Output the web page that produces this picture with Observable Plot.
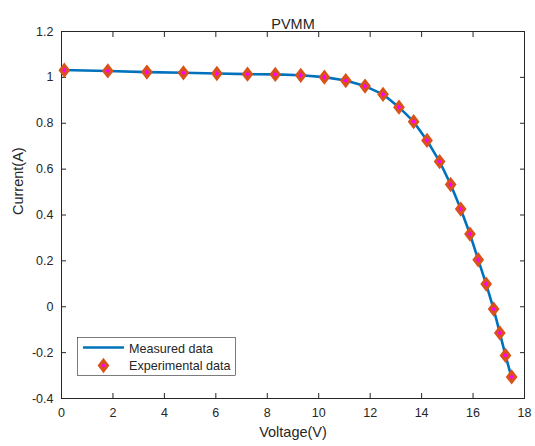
<!DOCTYPE html>
<html><head><meta charset="utf-8">
<script src="https://cdn.jsdelivr.net/npm/d3@7"></script>
<script src="https://cdn.jsdelivr.net/npm/@observablehq/plot@0.6"></script>
<style>body{margin:0;background:#fff} svg{display:block}</style>
</head><body><div id="chart"></div>
<script>
// Experimental data (diamonds)
const voltage = [0.11, 1.80, 3.32, 4.74, 6.04, 7.23, 8.31, 9.30, 10.22, 11.05, 11.80, 12.50, 13.12, 13.69, 14.21, 14.70, 15.13, 15.52, 15.88, 16.20, 16.51, 16.80, 17.04, 17.26, 17.50];
const current = [1.031, 1.028, 1.023, 1.020, 1.017, 1.014, 1.013, 1.009, 1.001, 0.986, 0.962, 0.926, 0.870, 0.807, 0.725, 0.633, 0.533, 0.426, 0.317, 0.205, 0.099, -0.010, -0.114, -0.212, -0.306];
// Measured data (line)
const lineVoltage = [0.00, 1.80, 3.32, 4.74, 6.04, 7.23, 8.31, 9.30, 10.22, 11.05, 11.80, 12.50, 13.12, 13.69, 14.21, 14.70, 15.13, 15.52, 15.88, 16.20, 16.51, 16.80, 17.04, 17.26, 17.52];
const lineCurrent = [1.032, 1.028, 1.023, 1.020, 1.017, 1.014, 1.013, 1.009, 1.001, 0.986, 0.962, 0.926, 0.870, 0.807, 0.725, 0.633, 0.533, 0.426, 0.317, 0.205, 0.099, -0.010, -0.114, -0.212, -0.318];

const xTicks = [0, 2, 4, 6, 8, 10, 12, 14, 16, 18];
const yTicks = [-0.4, -0.2, 0, 0.2, 0.4, 0.6, 0.8, 1, 1.2];
const titleText = "PVMM";
const xLabel = "Voltage(V)";
const yLabel = "Current(A)";
const legendLabels = ["Measured data", "Experimental data"];

const pts = voltage.map((v, i) => ({v, c: current[i]}));
const linePts = lineVoltage.map((v, i) => ({v, c: lineCurrent[i]}));

const ink = "#262626";
const blue = "#0072BD";
const orange = "#D95319";
const magenta = "#FF00FF";
const font = "'Liberation Sans', Arial, sans-serif";
const diamond = {draw(ctx) { const w = 4, h = 5.2; ctx.moveTo(0, -h); ctx.lineTo(w, 0); ctx.lineTo(0, h); ctx.lineTo(-w, 0); ctx.closePath(); }};

const chart = Plot.plot({
  width: 535, height: 446,
  marginLeft: 61, marginRight: 11, marginTop: 31, marginBottom: 48,
  style: {fontFamily: font, fontSize: "12.5px", color: ink, background: "#fff"},
  x: {domain: [0, 18]},
  y: {domain: [-0.4, 1.2]},
  marks: [
    Plot.axisX(xTicks, {anchor: "bottom", tickSize: -5, tickPadding: 15, tickFormat: d => String(d), label: null, stroke: ink, fill: ink, fontSize: 12.5}),
    Plot.axisX(xTicks, {anchor: "top", tickSize: -5, tickFormat: () => "", label: null, stroke: ink}),
    Plot.axisY(yTicks, {anchor: "left", tickSize: -5, tickPadding: 13, tickFormat: d => String(d), label: null, stroke: ink, fill: ink, fontSize: 12.5}),
    Plot.axisY(yTicks, {anchor: "right", tickSize: -5, tickFormat: () => "", label: null, stroke: ink}),
    Plot.frame({stroke: ink}),
    Plot.line(linePts, {x: "v", y: "c", stroke: blue, strokeWidth: 2.6}),
    Plot.dot(pts, {x: "v", y: "c", symbol: diamond, r: 5, fill: magenta, stroke: orange, strokeWidth: 3}),
    Plot.text([titleText], {frameAnchor: "top", dy: -12.5, fontSize: 14.5, fill: ink}),
    Plot.text([xLabel], {frameAnchor: "bottom", dy: 38, fontSize: 14.5, fill: ink}),
    Plot.text([yLabel], {frameAnchor: "left", dx: -43, rotate: -90, fontSize: 14.5, fill: ink})
  ]
});
document.getElementById("chart").appendChild(chart);

// Legend
const svg = d3.select(chart);
const lg = svg.append("g").attr("font-family", font).attr("font-size", 12.6).attr("fill", ink).attr("text-anchor", "start");
lg.append("rect").attr("x", 77.5).attr("y", 337.5).attr("width", 158).attr("height", 38).attr("fill", "#fff").attr("stroke", ink).attr("stroke-width", 0.6);
lg.append("line").attr("x1", 83).attr("x2", 124).attr("y1", 347.5).attr("y2", 347.5).attr("stroke", blue).attr("stroke-width", 2.6);
lg.append("path").attr("d", d3.symbol(diamond)()).attr("transform", "translate(103.5,365.5)").attr("fill", magenta).attr("stroke", orange).attr("stroke-width", 3);
lg.selectAll("text.l").data(legendLabels).join("text").attr("class", "l")
  .attr("x", 129).attr("y", (d, i) => 348.7 + i * 17.3).attr("dy", "0.35em").text(d => d);
</script></body></html>
